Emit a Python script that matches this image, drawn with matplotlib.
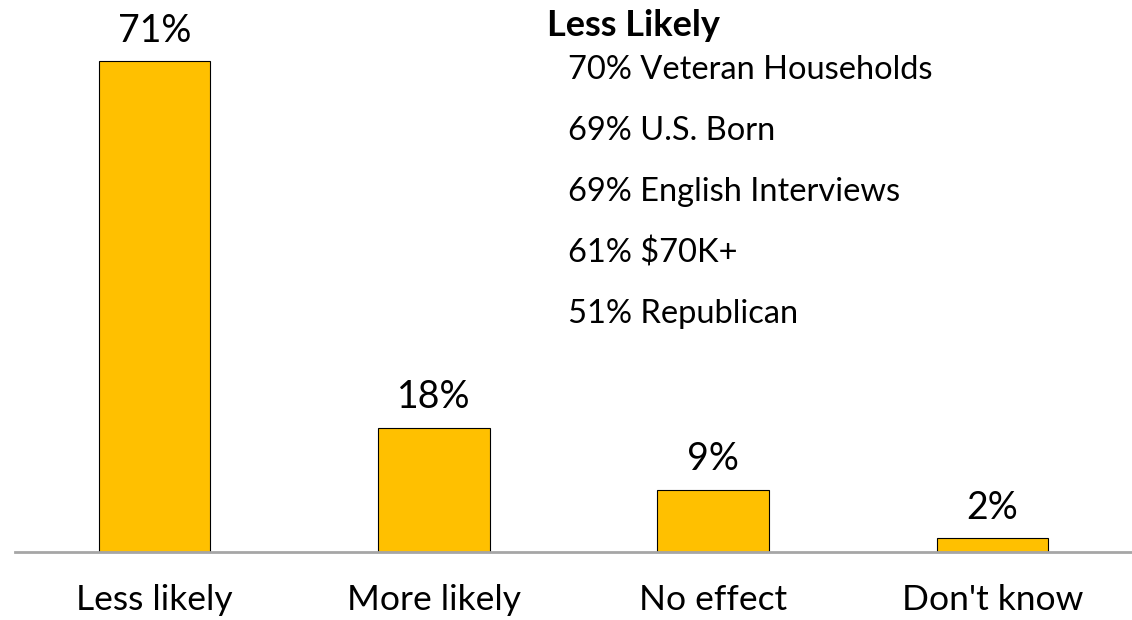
import matplotlib
matplotlib.use("Agg")
import matplotlib.pyplot as plt

categories = ["Less likely", "More likely", "No effect", "Don't know"]
values = [71, 18, 9, 2]
value_labels = ["71%", "18%", "9%", "2%"]
note_title = "Less Likely"
note_lines = ["70% Veteran Households", "69% U.S. Born", "69% English Interviews",
              "61% $70K+", "51% Republican"]

plt.rcParams['font.family'] = ['Lato', 'DejaVu Sans']

W, H = 1132, 620
fig = plt.figure(figsize=(W/100, H/100), dpi=100)
ax = fig.add_axes([15/W, (H-552)/H, 1 - 15/W, 552/H])
x = list(range(len(categories)))
ax.bar(x, values, width=0.4, color="#FFC000", edgecolor="black", linewidth=0.8, zorder=2)
ax.set_xlim(-0.5, 3.5)
ax.set_ylim(0, 552/6.915)
for s in ["top", "right", "left"]:
    ax.spines[s].set_visible(False)
ax.spines["bottom"].set_color("#A6A6A6")
ax.spines["bottom"].set_linewidth(2)
ax.set_yticks([])
ax.set_xticks(x)
ax.set_xticklabels(categories, fontsize=25.5)
ax.tick_params(axis="x", length=0, pad=23)
for xi, v, lab in zip(x, values, value_labels):
    ax.annotate(lab, (xi, v), xytext=(0, 9), textcoords="offset points",
                ha="center", va="bottom", fontsize=27)

fig.text(547/W, 1 - 25/H, note_title, fontsize=26, fontweight="bold", va="center", ha="left")
for i, line in enumerate(note_lines):
    fig.text(568/W, 1 - (70 + 61*i)/H, line, fontsize=23.5, va="center", ha="left")

fig.savefig("out.png", dpi=100)
